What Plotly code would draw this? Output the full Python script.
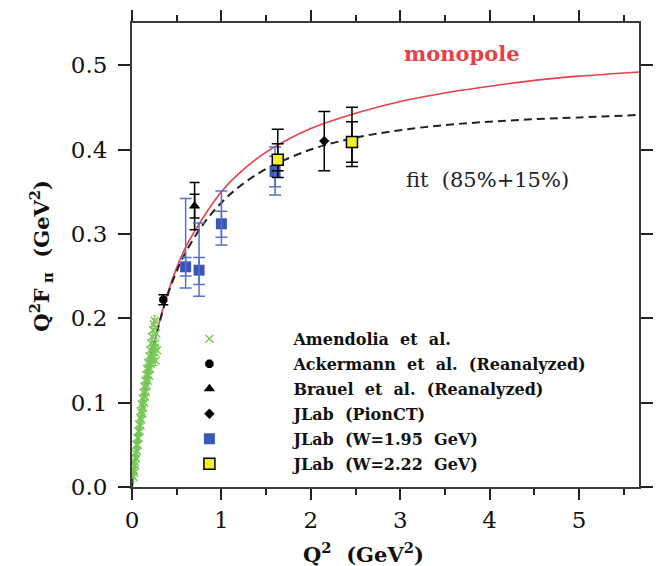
import plotly.graph_objects as go

# ---------------- data ----------------
amend_q2 = [0.015, 0.02, 0.025, 0.03, 0.035, 0.04, 0.045, 0.05, 0.055, 0.06, 0.065, 0.07,
            0.075, 0.08, 0.085, 0.09, 0.095, 0.10, 0.105, 0.11, 0.115, 0.12, 0.125, 0.13,
            0.135, 0.14, 0.145, 0.15, 0.155, 0.16, 0.165, 0.17, 0.175, 0.18, 0.19, 0.195,
            0.20, 0.205, 0.21, 0.215, 0.22, 0.225, 0.23, 0.235, 0.24, 0.245, 0.25, 0.26,
            0.265, 0.27, 0.28, 0.255]
amend_val = [0.012, 0.020, 0.017, 0.030, 0.026, 0.040, 0.034, 0.050, 0.043, 0.058, 0.050, 0.066,
             0.058, 0.074, 0.066, 0.082, 0.073, 0.090, 0.080, 0.098, 0.087, 0.105, 0.094, 0.112,
             0.100, 0.119, 0.107, 0.126, 0.113, 0.133, 0.120, 0.140, 0.126, 0.147, 0.132, 0.155,
             0.140, 0.162, 0.146, 0.170, 0.150, 0.178, 0.156, 0.186, 0.160, 0.193, 0.165, 0.170,
             0.150, 0.182, 0.162, 0.197]
amend_err = [0.006] * len(amend_q2)

acker_q2 = [0.35]
acker_val = [0.222]
acker_err = [0.006]

brauel_q2 = [0.70]
brauel_val = [0.333]
brauel_err_tot = [0.028]
brauel_err_stat = [0.014]

pionct_q2 = [2.15]
pionct_val = [0.410]
pionct_err = [0.035]

w195_q2 = [0.60, 0.75, 1.00, 1.60]
w195_val = [0.261, 0.257, 0.312, 0.374]
w195_tot_plus = [0.081, 0.056, 0.039, 0.029]
w195_tot_minus = [0.025, 0.031, 0.025, 0.028]
w195_stat_plus = [0.011, 0.015, 0.015, 0.018]
w195_stat_minus = [0.011, 0.017, 0.016, 0.018]

w222_q2 = [1.63, 2.46]
w222_val = [0.388, 0.409]
w222_tot_plus = [0.036, 0.041]
w222_tot_minus = [0.021, 0.029]
w222_stat_plus = [0.019, 0.024]
w222_stat_minus = [0.013, 0.024]

curve_q2 = [0, 0.05, 0.1, 0.15, 0.2, 0.3, 0.4, 0.5, 0.6, 0.8, 1.0, 1.2, 1.5, 2.0,
            2.5, 3.0, 3.5, 4.0, 4.5, 5.0, 5.67]
monopole_val = [0, 0.046, 0.084, 0.117, 0.146, 0.193, 0.230, 0.260, 0.284, 0.320, 0.350,
                0.372, 0.397, 0.425, 0.443, 0.457, 0.467, 0.475, 0.482, 0.487, 0.492]
fit_val = [0, 0.046, 0.084, 0.117, 0.146, 0.192, 0.228, 0.256, 0.278, 0.312, 0.337,
           0.356, 0.377, 0.400, 0.414, 0.423, 0.429, 0.433, 0.436, 0.438, 0.441]

x_ticks = [0, 1, 2, 3, 4, 5]
y_ticks = [0.0, 0.1, 0.2, 0.3, 0.4, 0.5]

# ---------------- styling ----------------
SERIF = "DejaVu Serif"
RED = "#e6404a"
GREEN = "#78c858"
BLUE = "#3a57b8"
BLUE_ERR = "#5a70c8"
YELLOW = "#f2ee2a"

fig = go.Figure()

# curves
fig.add_trace(go.Scatter(x=curve_q2, y=monopole_val, mode="lines", line=dict(color=RED, width=1.6, shape="spline"),
                         showlegend=False, hoverinfo="skip"))
fig.add_trace(go.Scatter(x=curve_q2, y=fit_val, mode="lines",
                         line=dict(color="#222222", width=2, dash="8px,5px", shape="spline"),
                         showlegend=False, hoverinfo="skip"))

invisible = dict(size=1, color="rgba(0,0,0,0)")

# Amendolia
fig.add_trace(go.Scatter(x=amend_q2, y=amend_val, mode="markers", name="Amendolia  et  al.",
                         legendgroup="a",
                         marker=dict(symbol="x-thin", size=8, line=dict(color=GREEN, width=1.5), color=GREEN),
                         error_y=dict(type="data", array=amend_err, color=GREEN, thickness=1, width=2)))
# Ackermann
fig.add_trace(go.Scatter(x=acker_q2, y=acker_val, mode="markers", name="Ackermann  et  al.  (Reanalyzed)",
                         legendgroup="b",
                         marker=dict(symbol="octagon", size=9, color="black"),
                         error_y=dict(type="data", array=acker_err, color="black", thickness=1.5, width=5)))
# Brauel
fig.add_trace(go.Scatter(x=brauel_q2, y=brauel_val, mode="markers", showlegend=False, hoverinfo="skip",
                         marker=invisible,
                         error_y=dict(type="data", array=brauel_err_stat, color="black", thickness=1.5, width=5)))
fig.add_trace(go.Scatter(x=brauel_q2, y=brauel_val, mode="markers", name="Brauel  et  al.  (Reanalyzed)",
                         legendgroup="c",
                         marker=dict(symbol="triangle-up", size=10, color="black"),
                         error_y=dict(type="data", array=brauel_err_tot, color="black", thickness=1.5, width=5)))
# PionCT
fig.add_trace(go.Scatter(x=pionct_q2, y=pionct_val, mode="markers", name="JLab  (PionCT)",
                         legendgroup="d",
                         marker=dict(symbol="diamond", size=8, color="black"),
                         error_y=dict(type="data", array=pionct_err, color="black", thickness=1.5, width=6)))
# W = 1.95
fig.add_trace(go.Scatter(x=w195_q2, y=w195_val, mode="markers", name="JLab  (W=1.95  GeV)",
                         legendgroup="e",
                         marker=dict(symbol="square", size=11, color=BLUE),
                         error_y=dict(type="data", symmetric=False, array=w195_tot_plus, arrayminus=w195_tot_minus,
                                      color=BLUE_ERR, thickness=1.5, width=6)))
fig.add_trace(go.Scatter(x=w195_q2, y=w195_val, mode="markers", showlegend=False, hoverinfo="skip",
                         marker=invisible,
                         error_y=dict(type="data", symmetric=False, array=w195_stat_plus, arrayminus=w195_stat_minus,
                                      color=BLUE_ERR, thickness=1.5, width=6)))
# W = 2.22
fig.add_trace(go.Scatter(x=w222_q2, y=w222_val, mode="markers", showlegend=False, hoverinfo="skip",
                         marker=invisible,
                         error_y=dict(type="data", symmetric=False, array=w222_stat_plus, arrayminus=w222_stat_minus,
                                      color="black", thickness=1.5, width=6)))
fig.add_trace(go.Scatter(x=w222_q2, y=w222_val, mode="markers", name="JLab  (W=2.22  GeV)",
                         legendgroup="f",
                         marker=dict(symbol="square", size=11, color=YELLOW, line=dict(color="black", width=1.5)),
                         error_y=dict(type="data", symmetric=False, array=w222_tot_plus, arrayminus=w222_tot_minus,
                                      color="black", thickness=1.5, width=6)))

axis_common = dict(showline=True, linecolor="#3a3a3a", linewidth=2, mirror="ticks", ticks="outside",
                   tickcolor="#222222", tickwidth=1.5, showgrid=False, zeroline=False,
                   tickfont=dict(family=SERIF, size=23, color="#111111"))

fig.update_xaxes(range=[0, 5.67], tickvals=x_ticks, ticklen=11,
                 minor=dict(dtick=0.5, ticklen=6, ticks="outside", tickcolor="#222222", tickwidth=1.5, showgrid=False),
                 ticklabelstandoff=0, **axis_common)
fig.update_yaxes(range=[0, 0.55], tickvals=y_ticks, tickformat=".1f", ticklen=12,
                 ticklabelstandoff=6, **axis_common)

fig.update_layout(
    width=663, height=566,
    margin=dict(l=132, r=10, t=21, b=79),
    paper_bgcolor="white", plot_bgcolor="white",
    font=dict(family=SERIF, color="#111111"),
    showlegend=True,
    legend=dict(x=-0.013, y=0.356, xanchor="left", yanchor="top", bgcolor="rgba(0,0,0,0)",
                borderwidth=0, itemwidth=158, tracegroupgap=1.2,
                font=dict(family=SERIF, size=16, color="#111111", weight="bold")),
    annotations=[
        dict(text="monopole", x=3.69, y=0.514, xref="x", yref="y", showarrow=False,
             xanchor="center", yanchor="middle",
             font=dict(family=SERIF, size=21, color=RED, weight="bold")),
        dict(text="fit  (85%+15%)", x=3.98, y=0.364, xref="x", yref="y", showarrow=False,
             xanchor="center", yanchor="middle",
             font=dict(family=SERIF, size=21, color="#222222")),
        dict(text="Q<sup>2</sup>  (GeV<sup>2</sup>)", x=0.457, y=-0.142, xref="paper", yref="paper",
             xanchor="center", yanchor="middle",
             showarrow=False, font=dict(family=SERIF, size=21, color="#111111", weight="bold")),
        dict(text="Q<sup>2</sup>F<sub> π</sub>  (GeV<sup>2</sup>)", x=-0.180, y=0.498, xref="paper", yref="paper",
             xanchor="center", yanchor="middle",
             textangle=-90, showarrow=False, font=dict(family=SERIF, size=21, color="#111111", weight="bold")),
    ],
)

fig.write_html("out.html")
